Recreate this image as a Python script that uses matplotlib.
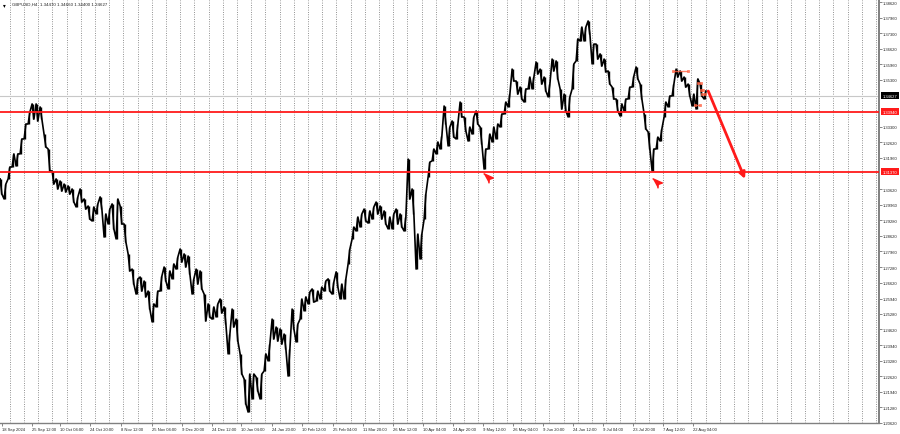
import numpy as np
import matplotlib.pyplot as plt
from matplotlib.transforms import blended_transform_factory

plt.rcParams['font.family'] = ['Liberation Sans', 'DejaVu Sans']

# GBPUSD H4 price path (one sample every ~8 bars)
highs = [
    1.3106, 1.3084, 1.3157, 1.3213, 1.3213, 1.3277, 1.3341, 1.3392, 1.3427, 1.3427,
    1.3414, 1.3298, 1.3234, 1.3140, 1.3106, 1.3097, 1.3084, 1.3076, 1.3063, 1.3029,
    1.3063, 1.3020, 1.2990, 1.2986, 1.2999, 1.3029, 1.2956, 1.2977, 1.2999, 1.3020,
    1.2990, 1.2913, 1.2785, 1.2720, 1.2678, 1.2686, 1.2669, 1.2626, 1.2571, 1.2626,
    1.2690, 1.2729, 1.2712, 1.2742, 1.2772, 1.2806, 1.2785, 1.2776, 1.2678, 1.2720,
    1.2712, 1.2613, 1.2571, 1.2558, 1.2571, 1.2592, 1.2558, 1.2442, 1.2549, 1.2506,
    1.2357, 1.2250, 1.2271, 1.2271, 1.2258, 1.2271, 1.2357, 1.2399, 1.2506, 1.2472,
    1.2464, 1.2442, 1.2378, 1.2549, 1.2485, 1.2592, 1.2601, 1.2622, 1.2635, 1.2626,
    1.2643, 1.2669, 1.2678, 1.2665, 1.2708, 1.2656, 1.2678, 1.2806, 1.2900, 1.2943,
    1.2956, 1.2977, 1.2969, 1.2986, 1.3007, 1.2990, 1.2969, 1.2943, 1.2956, 1.2977,
    1.2956, 1.2943, 1.3191, 1.3063, 1.2870, 1.2870, 1.3041, 1.3178, 1.3234, 1.3264,
    1.3290, 1.3418, 1.3328, 1.3354, 1.3341, 1.3435, 1.3371, 1.3328, 1.3371, 1.3397,
    1.3328, 1.3234, 1.3298, 1.3328, 1.3341, 1.3384, 1.3435, 1.3469, 1.3576, 1.3525,
    1.3499, 1.3491, 1.3542, 1.3542, 1.3606, 1.3576, 1.3542, 1.3512, 1.3619, 1.3611,
    1.3491, 1.3469, 1.3457, 1.3598, 1.3705, 1.3756, 1.3756, 1.3782, 1.3683, 1.3683,
    1.3641, 1.3619, 1.3568, 1.3499, 1.3448, 1.3427, 1.3448, 1.3499, 1.3546, 1.3585,
    1.3512, 1.3384, 1.3307, 1.3234, 1.3285, 1.3320, 1.3435, 1.3461, 1.3512, 1.3576,
    1.3568, 1.3542, 1.3512, 1.3469, 1.3534, 1.3512, 1.3482]
lows = [
    1.3041, 1.3020, 1.3106, 1.3157, 1.3161, 1.3213, 1.3277, 1.3341, 1.3362, 1.3354,
    1.3362, 1.3243, 1.3140, 1.3084, 1.3063, 1.3054, 1.3050, 1.3041, 1.3007, 1.2986,
    1.3007, 1.2977, 1.2934, 1.2926, 1.2956, 1.2977, 1.2857, 1.2913, 1.2892, 1.2849,
    1.2913, 1.2836, 1.2712, 1.2656, 1.2613, 1.2626, 1.2601, 1.2549, 1.2494, 1.2558,
    1.2626, 1.2669, 1.2635, 1.2678, 1.2720, 1.2750, 1.2729, 1.2699, 1.2613, 1.2656,
    1.2635, 1.2498, 1.2515, 1.2506, 1.2515, 1.2532, 1.2485, 1.2357, 1.2472, 1.2412,
    1.2271, 1.2143, 1.2108, 1.2164, 1.2198, 1.2164, 1.2284, 1.2327, 1.2421, 1.2412,
    1.2399, 1.2378, 1.2262, 1.2464, 1.2408, 1.2506, 1.2541, 1.2571, 1.2579, 1.2583,
    1.2592, 1.2626, 1.2626, 1.2613, 1.2643, 1.2592, 1.2592, 1.2742, 1.2849, 1.2883,
    1.2900, 1.2926, 1.2917, 1.2934, 1.2956, 1.2934, 1.2913, 1.2892, 1.2892, 1.2913,
    1.2900, 1.2883, 1.3020, 1.2956, 1.2720, 1.2763, 1.2934, 1.3114, 1.3183, 1.3213,
    1.3234, 1.3341, 1.3247, 1.3285, 1.3277, 1.3371, 1.3311, 1.3268, 1.3298, 1.3341,
    1.3255, 1.3148, 1.3234, 1.3264, 1.3277, 1.3328, 1.3384, 1.3414, 1.3525, 1.3469,
    1.3448, 1.3435, 1.3491, 1.3491, 1.3555, 1.3512, 1.3482, 1.3457, 1.3568, 1.3534,
    1.3405, 1.3397, 1.3371, 1.3491, 1.3611, 1.3696, 1.3696, 1.3726, 1.3598, 1.3619,
    1.3589, 1.3564, 1.3512, 1.3448, 1.3397, 1.3375, 1.3397, 1.3448, 1.3499, 1.3534,
    1.3448, 1.3320, 1.3234, 1.3140, 1.3234, 1.3268, 1.3371, 1.3414, 1.3461, 1.3542,
    1.3525, 1.3499, 1.3461, 1.3418, 1.3405, 1.3461, 1.3448]

# levels and labels
level_hi = 1.33940
level_lo = 1.31370
last_price = 1.34627
header = "GBPUSD,H4  1.34470 1.34660 1.34400 1.34627"

price_ticks = [1.38620, 1.37960, 1.37300, 1.36620, 1.35960, 1.35300, 1.33300,
               1.32620, 1.31960, 1.30620, 1.29960, 1.29280, 1.28620, 1.27960,
               1.27280, 1.26620, 1.25940, 1.25280, 1.24620, 1.23940, 1.23280,
               1.22620, 1.21940, 1.21280, 1.20620]
date_labels = ["18 Sep 2024", "25 Sep 12:00", "10 Oct 04:00", "24 Oct 20:00",
               "8 Nov 12:00", "25 Nov 04:00", "9 Dec 20:00", "24 Dec 12:00",
               "10 Jan 04:00", "24 Jan 20:00", "10 Feb 12:00", "25 Feb 04:00",
               "11 Mar 20:00", "26 Mar 12:00", "10 Apr 04:00", "24 Apr 20:00",
               "9 May 12:00", "26 May 04:00", "9 Jun 20:00", "24 Jun 12:00",
               "9 Jul 04:00", "23 Jul 20:00", "7 Aug 12:00", "22 Aug 04:00"]
date_pos = [0.3, 7.8, 14.8, 22.3, 30.0, 37.8, 45.3, 52.8, 60.0, 67.8, 75.3, 83.0,
            90.5, 98.0, 105.5, 113.0, 120.5, 128.0, 135.5, 143.0, 150.5, 158.0,
            165.5, 173.0]

# small trade markers (sample index from, to, price)
trade_marks = [(168.0, 171.8, 1.3568), (174.2, 175.0, 1.3516),
               (175.0, 175.6, 1.3486), (173.5, 174.8, 1.3422),
               (175.2, 176.0, 1.3469)]
swing_lows = [(121.8, 1.3110), (164.0, 1.3088)]
arrow_from = (176.8, 1.3482)
arrow_to = (186.0, 1.3106)

fig = plt.figure(figsize=(9, 4.35), dpi=100)
ax = fig.add_axes([0.0, 11 / 435, 879 / 900, 423 / 435])
ax.set_xlim(-0.25, 219.5)
ax.set_ylim(1.20613, 1.38717)

# vertical dotted grid
for gx in np.arange(2.2, 219.5, 3.55):
    ax.axvline(gx, color='#6e6e6e', lw=0.6, ls=(0, (1, 1.8)), zorder=1)

# price path drawn as jagged high/low strokes
hi = np.array(highs)
lo = np.array(lows)
mid = (hi + lo) / 2
px, py = [], []
for i in range(len(hi)):
    nxt = mid[i + 1] if i + 1 < len(mid) else mid[i]
    if nxt >= mid[i]:
        px += [i - 0.22, i + 0.22]
        py += [lo[i], hi[i]]
    else:
        px += [i - 0.22, i + 0.22]
        py += [hi[i], lo[i]]
ax.plot(px, py, color='black', lw=1.2, zorder=3)
ax.vlines(np.arange(len(hi)), lo, hi, color='black', lw=1.0, zorder=3)

# horizontal levels
ax.axhline(last_price, color='#c8c8c8', lw=0.8, zorder=2)
ax.axhline(level_hi, color='#ff1a1a', lw=1.3, zorder=4)
ax.axhline(level_lo, color='#ff1a1a', lw=1.3, zorder=4)

for x0, x1, p in trade_marks:
    ax.plot([x0, x1], [p, p], color='#ff6040', lw=1.0, alpha=0.8, zorder=5)
    ax.plot([x0, x1], [p, p], ls='none', marker='s', ms=1.6, mfc='none',
            mec='#ff6040', mew=0.5, zorder=5)

for sx, sy in swing_lows:
    ax.plot(sx, sy, marker=[(-1, 1), (1, 0.1), (0.15, -0.2), (0.1, -1)],
            ms=7, color='#ff1a1a', zorder=6)

ax.annotate('', xy=arrow_to, xytext=arrow_from,
            arrowprops=dict(arrowstyle='-|>', color='#ff1a1a', lw=2.0,
                            mutation_scale=9, shrinkA=0, shrinkB=0), zorder=6)

# axes styling
for s in ['top', 'left']:
    ax.spines[s].set_visible(False)
ax.spines['right'].set_color('#808080')
ax.spines['right'].set_linewidth(1.4)
ax.spines['bottom'].set_color('#808080')
ax.spines['bottom'].set_linewidth(1.0)

ax.yaxis.tick_right()
ax.set_yticks(price_ticks)
ax.set_yticklabels([f'{v:.5f}' for v in price_ticks])
ax.tick_params(axis='y', length=2, width=0.5, color='#555555', pad=1,
               labelsize=3.0, labelcolor='#222222')
ax.set_xticks(date_pos)
ax.set_xticklabels(date_labels, ha='left')
ax.tick_params(axis='x', length=2, width=0.5, color='#555555', pad=1,
               labelsize=3.0, labelcolor='#222222')

tr = blended_transform_factory(ax.transAxes, ax.transData)
for val, bg in [(last_price, 'black'), (level_hi, '#ff1a1a'), (level_lo, '#ff1a1a')]:
    ax.text(1.004, val, f'{val:.5f}', transform=tr, fontsize=3.0, color='white',
            va='center', ha='left', clip_on=False, zorder=7,
            bbox=dict(boxstyle='square,pad=0.35', fc=bg, ec='none'))

fig.text(0.003, 0.993, '\u25be', fontsize=4, va='top', ha='left')
fig.text(0.013, 0.994, header, fontsize=3.2, va='top', ha='left', color='#222222')

fig.savefig('out.png', dpi=100, facecolor='white')
